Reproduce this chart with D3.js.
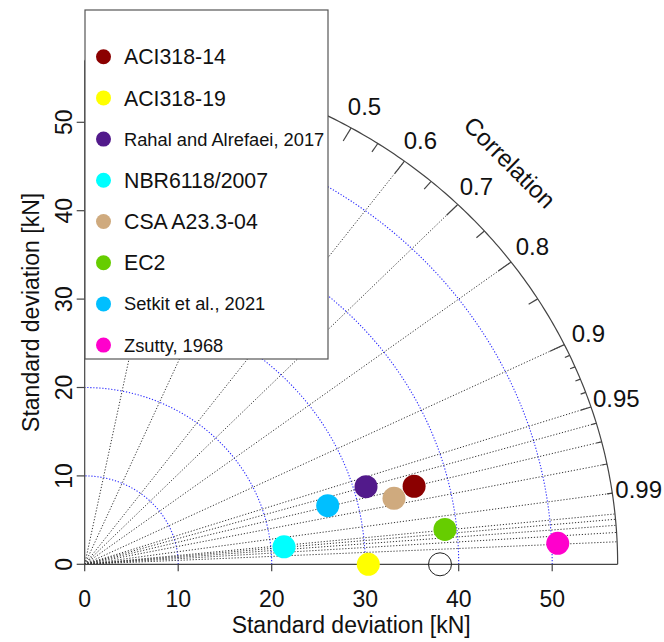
<!DOCTYPE html>
<html>
<head>
<meta charset="utf-8">
<script src="https://cdn.jsdelivr.net/npm/d3@7"></script>
<style>
  body { margin: 0; background: #fff; }
  text { font-family: "Liberation Sans", Arial, sans-serif; fill: #111; }
</style>
</head>
<body>
<script>
// model names, colours and the two Taylor statistics per model
var models = ["ACI318-14", "ACI318-19", "Rahal and Alrefaei, 2017", "NBR6118/2007",
              "CSA A23.3-04", "EC2", "Setkit et al., 2021", "Zsutty, 1968"];
var colors = ["#8b0000", "#ffff00", "#521a8b", "#00ffff", "#cfaa7e", "#66cd00", "#00bfff", "#ff00cc"];
var sdValues  = [36.32, 30.33, 31.34, 21.41, 33.91, 38.73, 26.82, 50.65];
var corValues = [0.970, 1.000, 0.960, 0.9957, 0.9755, 0.9948, 0.969, 0.9989];
var refSd = 38;
var maxSd = 57;

var sdTicks = [0, 10, 20, 30, 40, 50];
var sdArcs = [10, 20, 30, 40, 50];
var corrLines = [0.2, 0.4, 0.6, 0.7, 0.8, 0.9, 0.95, 0.96, 0.97, 0.98, 0.99,
                 0.995, 0.996, 0.997, 0.998, 0.999];
// 0.1-0.4 sit under the legend, only the visible ones are written
var corrLabels = [0.5, 0.6, 0.7, 0.8, 0.9, 0.95, 0.99];
var bigTicks = [0.1, 0.2, 0.3, 0.4, 0.5, 0.6, 0.7, 0.8, 0.9];
var medTicks = [0.05, 0.15, 0.25, 0.35, 0.45, 0.55, 0.65, 0.75, 0.85, 0.95];
var smallTicks = [0.91, 0.92, 0.93, 0.94, 0.96, 0.97, 0.98, 0.99];

var W = 664, H = 642;
var svg = d3.select("body").append("svg").attr("width", W).attr("height", H);

// picture is stretched a bit horizontally, so x and y get their own scales
var x = d3.scaleLinear().domain([0, maxSd]).range([84.7, 84.7 + maxSd * 9.35]);
var y = d3.scaleLinear().domain([0, maxSd]).range([564.3, 564.3 - maxSd * 8.84]);

function px(r, c) { return x(r * c); }
function py(r, c) { return y(r * Math.sqrt(Math.max(0, 1 - c * c))); }

var arcLine = d3.line()
  .x(function(d) { return x(d[0] * Math.cos(d[1])); })
  .y(function(d) { return y(d[0] * Math.sin(d[1])); });
function arcPts(r) {
  return d3.range(0, 181).map(function(i) { return [r, i / 180 * Math.PI / 2]; });
}

// sd arcs
svg.selectAll(".sdarc").data(sdArcs).enter().append("path")
  .attr("d", function(r) { return arcLine(arcPts(r)); })
  .attr("fill", "none").attr("stroke", "#2828ff").attr("stroke-width", 1.1)
  .attr("stroke-dasharray", "1.2,1.8");

// correlation rays
svg.selectAll(".ray").data(corrLines).enter().append("line")
  .attr("x1", x(0)).attr("y1", y(0))
  .attr("x2", function(c) { return px(maxSd, c); })
  .attr("y2", function(c) { return py(maxSd, c); })
  .attr("stroke", "#333").attr("stroke-width", 1).attr("stroke-dasharray", "1.2,1.8");

// outer arc and axes
svg.append("path").attr("d", arcLine(arcPts(maxSd)))
  .attr("fill", "none").attr("stroke", "#444").attr("stroke-width", 1.2);
svg.append("line").attr("x1", x(0)).attr("x2", x(maxSd)).attr("y1", y(0)).attr("y2", y(0))
  .attr("stroke", "#444").attr("stroke-width", 1.2);
svg.append("line").attr("x1", x(0)).attr("x2", x(0)).attr("y1", y(0)).attr("y2", y(maxSd))
  .attr("stroke", "#444").attr("stroke-width", 1.2);

// arc ticks
function arcTicks(vals, frac) {
  svg.selectAll(null).data(vals).enter().append("line")
    .attr("x1", function(c) { return px(maxSd, c); })
    .attr("y1", function(c) { return py(maxSd, c); })
    .attr("x2", function(c) { return px(maxSd * frac, c); })
    .attr("y2", function(c) { return py(maxSd * frac, c); })
    .attr("stroke", "#444").attr("stroke-width", 1.2);
}
arcTicks(bigTicks, 0.97);
arcTicks(medTicks, 0.98);
arcTicks(smallTicks, 0.99);

svg.selectAll(".clab").data(corrLabels).enter().append("text")
  .attr("x", function(c) { return px(maxSd * 1.05, c); })
  .attr("y", function(c) { return py(maxSd * 1.05, c); })
  .attr("text-anchor", "middle").attr("dy", "0.35em")
  .style("font-size", "24px")
  .text(function(c) { return c; });

svg.append("text")
  .attr("transform", "translate(" + px(maxSd * 1.128, Math.SQRT1_2) + "," + py(maxSd * 1.128, Math.SQRT1_2) + ") rotate(45)")
  .attr("text-anchor", "middle").attr("dy", "0.35em")
  .style("font-size", "24px").text("Correlation");

// axis ticks and labels
svg.selectAll(".xt").data(sdTicks).enter().append("line")
  .attr("x1", function(d) { return x(d); }).attr("x2", function(d) { return x(d); })
  .attr("y1", y(0)).attr("y2", y(0) + 7).attr("stroke", "#444").attr("stroke-width", 1.2);
svg.selectAll(".xl").data(sdTicks).enter().append("text")
  .attr("x", function(d) { return x(d); }).attr("y", 607)
  .attr("text-anchor", "middle").style("font-size", "23px")
  .text(function(d) { return d; });
svg.selectAll(".yt").data(sdTicks).enter().append("line")
  .attr("y1", function(d) { return y(d); }).attr("y2", function(d) { return y(d); })
  .attr("x1", x(0)).attr("x2", x(0) - 8).attr("stroke", "#444").attr("stroke-width", 1.2);
svg.selectAll(".yl").data(sdTicks).enter().append("text")
  .attr("transform", function(d) { return "translate(72," + y(d) + ") rotate(-90)"; })
  .attr("text-anchor", "middle").style("font-size", "23px")
  .text(function(d) { return d; });

svg.append("text").attr("x", x(maxSd / 2)).attr("y", 633)
  .attr("text-anchor", "middle").style("font-size", "23px").text("Standard deviation [kN]");
svg.append("text")
  .attr("transform", "translate(39," + y(maxSd / 2) + ") rotate(-90)")
  .attr("text-anchor", "middle").style("font-size", "23px").text("Standard deviation [kN]");

// reference point and models
svg.append("circle").attr("cx", px(refSd, 1)).attr("cy", py(refSd, 1)).attr("r", 11.5)
  .attr("fill", "none").attr("stroke", "#222").attr("stroke-width", 1);
svg.selectAll(".pt").data(models).enter().append("circle")
  .attr("cx", function(d, i) { return px(sdValues[i], corValues[i]); })
  .attr("cy", function(d, i) { return py(sdValues[i], corValues[i]); })
  .attr("r", 11.5)
  .attr("fill", function(d, i) { return colors[i]; });

// legend
var lg = svg.append("g");
lg.append("rect").attr("x", 85).attr("y", 10).attr("width", 243).attr("height", 349)
  .attr("fill", "#fff").attr("stroke", "#555").attr("stroke-width", 1.2);
var rows = lg.selectAll(".row").data(models).enter().append("g")
  .attr("transform", function(d, i) { return "translate(103.5," + (56.7 + i * 41.2) + ")"; });
rows.append("circle").attr("r", 7.5).attr("fill", function(d, i) { return colors[i]; });
rows.append("text").attr("x", 20.5).attr("dy", "0.36em")
  .style("font-size", function(d) { return d.indexOf(",") >= 0 ? "18.3px" : "21.3px"; })
  .text(function(d) { return d; });
</script>
</body>
</html>
